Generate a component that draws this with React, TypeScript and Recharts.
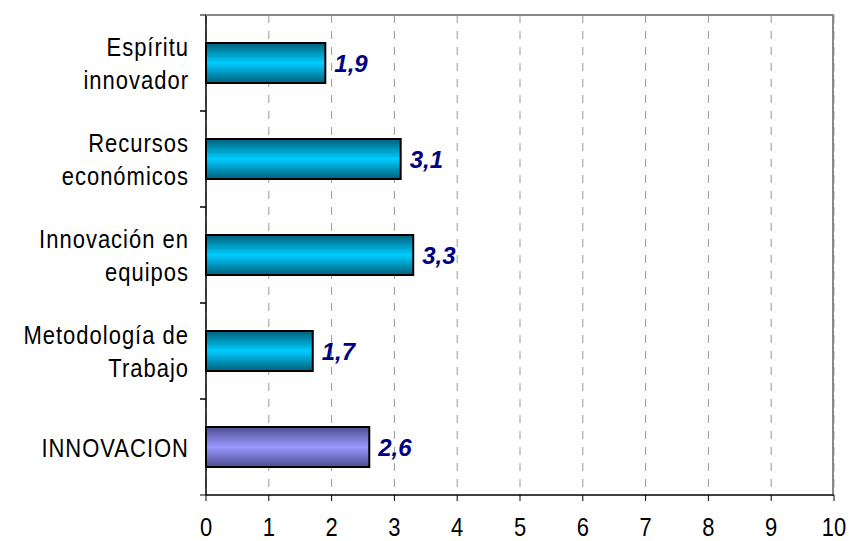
import { BarChart, Bar, XAxis, YAxis, CartesianGrid, LabelList, Cell } from 'recharts'

const categories = ['Espíritu\ninnovador', 'Recursos\neconómicos', 'Innovación en\nequipos', 'Metodología de\nTrabajo', 'INNOVACION']
const values = [1.9, 3.1, 3.3, 1.7, 2.6]
const xTicks = [0, 1, 2, 3, 4, 5, 6, 7, 8, 9, 10]

const data = categories.map((name, i) => ({ name, value: values[i] }))

const FONT = '"Liberation Sans", Arial, sans-serif'
const PLOT_LEFT = 206
const PLOT_TOP = 15
const PLOT_W = 628
const PLOT_H = 480
const BAND = 96

const CategoryTick = (props: any) => {
  const { y, payload } = props
  const lines = String(payload.value).split('\n')
  const lineH = 33
  const startY = y - ((lines.length - 1) * lineH) / 2
  return (
    <g>
      {lines.map((line, i) => (
        <text
          key={i}
          transform={`translate(189, ${startY + i * lineH}) scale(1, 1.2)`}
          dy="0.36em"
          textAnchor="end"
          fill="#000"
          fontSize={22}
          letterSpacing={1}
          fontFamily={FONT}
        >
          {line}
        </text>
      ))}
      {/* tick marks sit on the band edges, not centres */}
      <line x1={PLOT_LEFT - 6} x2={PLOT_LEFT} y1={y - BAND / 2} y2={y - BAND / 2} stroke="#000" />
      <line x1={PLOT_LEFT - 6} x2={PLOT_LEFT} y1={y + BAND / 2} y2={y + BAND / 2} stroke="#000" />
    </g>
  )
}

const ValueTick = (props: any) => {
  const { x, y, payload } = props
  return (
    <text
      transform={`translate(${x}, ${y}) scale(1, 1.2)`}
      dy="0.71em"
      textAnchor="middle"
      fill="#000"
      fontSize={22}
      fontFamily={FONT}
    >
      {payload.value}
    </text>
  )
}

export default function App() {
  return (
    <div style={{ position: 'absolute', left: 0, top: 0, background: '#fff' }}>
      <BarChart
        width={849}
        height={541}
        data={data}
        layout="vertical"
        margin={{ top: PLOT_TOP, right: 15, bottom: 0, left: 0 }}
        barCategoryGap={0}
      >
        <defs>
          <linearGradient id="cyanGrad" x1="0" y1="0" x2="0" y2="1">
            <stop offset="0%" stopColor="#00607a" />
            <stop offset="50%" stopColor="#00ccff" />
            <stop offset="100%" stopColor="#00607a" />
          </linearGradient>
          <linearGradient id="purpleGrad" x1="0" y1="0" x2="0" y2="1">
            <stop offset="0%" stopColor="#4d4d8f" />
            <stop offset="50%" stopColor="#9999ff" />
            <stop offset="100%" stopColor="#4d4d8f" />
          </linearGradient>
        </defs>
        <CartesianGrid horizontal={false} stroke="#999" strokeDasharray="8 8" />
        <XAxis
          type="number"
          domain={[0, 10]}
          ticks={xTicks}
          interval={0}
          axisLine={{ stroke: '#000', strokeWidth: 1.5 }}
          tickLine={{ stroke: '#000' }}
          tickSize={6}
          tickMargin={16}
          height={46}
          tick={<ValueTick />}
        />
        <YAxis
          type="category"
          dataKey="name"
          width={PLOT_LEFT}
          axisLine={{ stroke: '#000', strokeWidth: 1.5 }}
          tickLine={false}
          tick={<CategoryTick />}
          interval={0}
        />
        <Bar dataKey="value" barSize={40} stroke="#000" strokeWidth={2} isAnimationActive={false}>
          {data.map((d, i) => (
            <Cell key={i} fill={d.name === 'INNOVACION' ? 'url(#purpleGrad)' : 'url(#cyanGrad)'} />
          ))}
          <LabelList
            dataKey="value"
            position="right"
            offset={9}
            formatter={(v: any) => String(v).replace('.', ',')}
            style={{ fill: '#000080', fontSize: 24, fontWeight: 'bold', fontStyle: 'italic', fontFamily: FONT }}
          />
        </Bar>
      </BarChart>
      {/* grey frame on the top and right of the plot area */}
      <div
        style={{
          position: 'absolute',
          left: PLOT_LEFT,
          top: PLOT_TOP - 1,
          width: PLOT_W,
          height: PLOT_H,
          borderTop: '2px solid #888',
          borderRight: '2px solid #888',
          boxSizing: 'border-box',
          pointerEvents: 'none',
        }}
      />
    </div>
  )
}
